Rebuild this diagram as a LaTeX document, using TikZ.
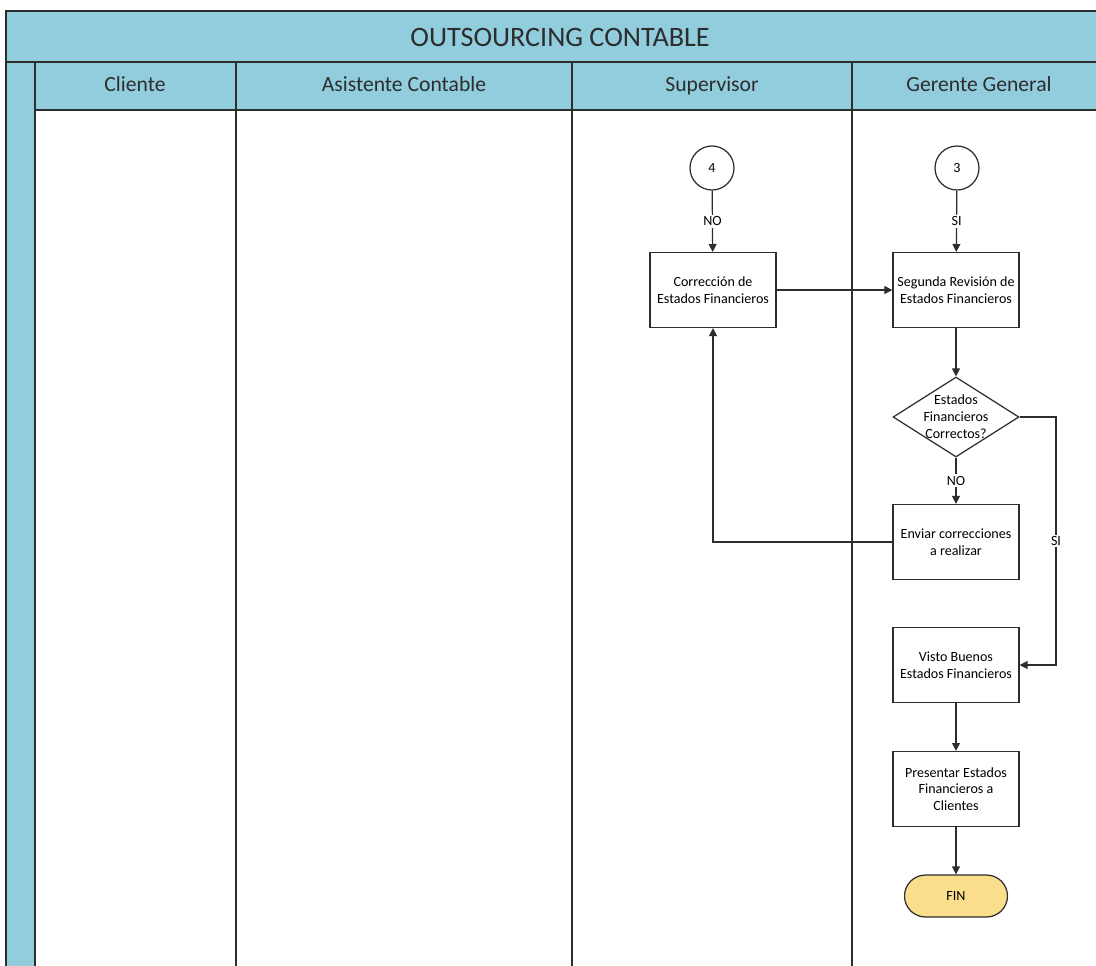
\documentclass[tikz,border=0pt]{standalone}
\usepackage{fontspec}
\setmainfont{Carlito}
\usetikzlibrary{shapes.geometric,arrows.meta}
\definecolor{lanefill}{RGB}{146,205,221}
\definecolor{lineclr}{RGB}{45,45,45}
\definecolor{finfill}{RGB}{250,222,140}
\begin{document}
\begin{tikzpicture}[x=0.02cm,y=-0.02cm,
  lane/.style={draw=lineclr,line width=1.1pt},
  head/.style={text=lineclr,text height=1.6ex,text depth=0.4ex,font=\fontsize{12.3}{14}\selectfont},
  box/.style={draw=lineclr,line width=0.7pt,fill=white,minimum width=2.52cm,minimum height=1.5cm,align=center,inner sep=1pt,font=\fontsize{8}{9.5}\selectfont},
  conn/.style={draw=lineclr,line width=0.7pt,fill=white,circle,minimum size=0.88cm,inner sep=0pt,font=\fontsize{8}{9.5}\selectfont},
  decision/.style={draw=lineclr,line width=0.7pt,fill=white,diamond,minimum width=2.52cm,minimum height=1.6cm,inner sep=0pt},
  term/.style={draw=lineclr,line width=0.7pt,fill=finfill,rounded corners=0.42cm,minimum width=2.06cm,minimum height=0.84cm,font=\fontsize{8}{9.5}\selectfont},
  flow/.style={draw=lineclr,line width=0.7pt,-{Triangle[length=4.5pt,width=4.5pt]}},
  tag/.style={fill=white,inner sep=1pt,font=\fontsize{8}{9.5}\selectfont}]
\useasboundingbox (0,0) rectangle (1096,965);
\clip (0,0) rectangle (1096,965);
\fill[lanefill] (6,11) rectangle (1110,110);
\fill[lanefill] (6,62) rectangle (35,980);
\draw[lane] (6,980) -- (6,11) -- (1110,11);
\draw[lane] (6,62) -- (1110,62);
\draw[lane] (35,110) -- (1110,110);
\foreach \x in {35,236,572,852} \draw[lane] (\x,62) -- (\x,980);
\node[text=lineclr,font=\fontsize{16}{18}\selectfont] (title) at (560,37) {OUTSOURCING CONTABLE};
\node[head] (hcli) at (135,86) {Cliente};
\node[head] (hasi) at (404,86) {Asistente Contable};
\node[head] (hsup) at (712,86) {Supervisor};
\node[head] (hger) at (979,86) {Gerente General};

\node[conn] (c4) at (712,168) {4};
\node[conn] (c3) at (957,168) {3};
\node[box] (corr) at (713,290) {Corrección de\\Estados Financieros};
\node[box] (rev2) at (956,290) {Segunda Revisión de\\Estados Financieros};
\node[decision] (dec) at (956,417) {};
\node[align=center,inner sep=0pt,font=\fontsize{8}{9.6}\selectfont] (dectxt) at (dec) {Estados\\Financieros\\Correctos?};
\node[box] (env) at (956,542) {Enviar correcciones\\a realizar};
\node[box] (vb) at (956,665) {Visto Buenos\\Estados Financieros};
\node[box] (pres) at (956,789) {Presentar Estados\\Financieros a\\Clientes};
\node[term] (fin) at (956,896) {FIN};
\coordinate (sibend) at (1056,417);

\draw[flow] (c4) -- node[tag]{NO} (corr);
\draw[flow] (c3) -- node[tag]{SI} (rev2);
\draw[flow] (corr) -- (rev2);
\draw[flow] (rev2) -- (dec);
\draw[flow] (dec) -- node[tag]{NO} (env);
\draw[flow] (env.west) -| (corr.south);
\draw[flow] (dec.east) -- (sibend) |- node[tag,pos=0.25]{SI} (vb.east);
\draw[flow] (vb) -- (pres);
\draw[flow] (pres) -- (fin);
\end{tikzpicture}
\end{document}
